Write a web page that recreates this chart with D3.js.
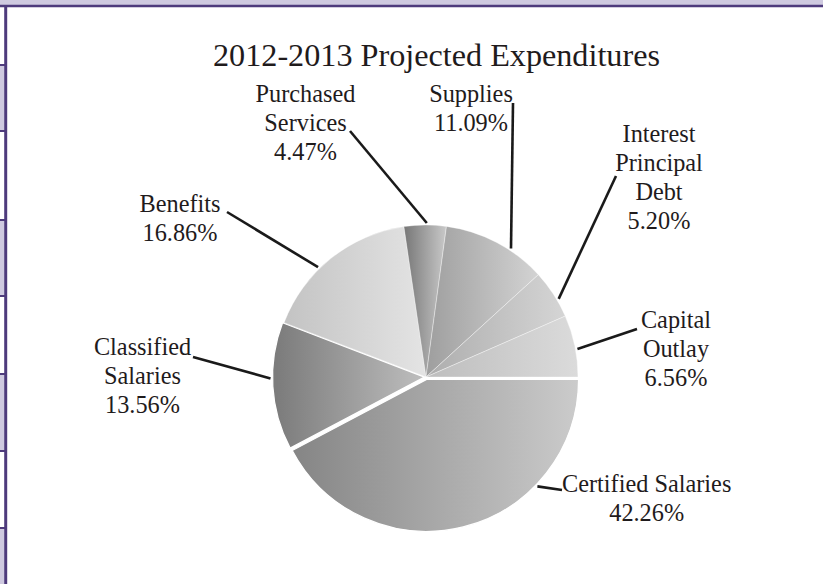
<!DOCTYPE html>
<html><head><meta charset="utf-8">
<script src="https://cdn.jsdelivr.net/npm/d3@7"></script>
<style>body{margin:0;background:#fff}svg{display:block}</style>
</head><body>
<script>
// ---- data ----
const title = "2012-2013 Projected Expenditures";
const categories = ["Certified Salaries", "Classified Salaries", "Benefits", "Purchased Services", "Supplies", "Interest Principal Debt", "Capital Outlay"];
const values = [42.26, 13.56, 16.86, 4.47, 11.09, 5.20, 6.56];
const labelLines = [["Certified Salaries"], ["Classified", "Salaries"], ["Benefits"], ["Purchased", "Services"], ["Supplies"], ["Interest", "Principal", "Debt"], ["Capital", "Outlay"]];

// ---- styles / layout ----
const gradLeft  = ["#858585", "#7a7a7a", "#c3c3c3", "#777777", "#9e9e9e", "#adadad", "#bdbdbd"];
const gradRight = ["#cbcbcb", "#bebebe", "#e4e4e4", "#c9c9c9", "#d3d3d3", "#d5d5d5", "#dbdbdb"];
const explode = [2.5, 1.5, 0, 0, 0, 0, 0];
const leaderAngle = [134, 269.5, 315.5, 0.3, 33.5, 59.5, 79.5];       // degrees, clockwise from 12 o'clock
const leaderEnd = [[562, 490], [193, 357], [227, 212], [350, 131], [513, 103], [616, 176], [637, 329]];
const labelPos = [[646.7, 491.7], [142.5, 355], [180, 211.7], [305.5, 101.7], [471, 101.7], [659, 141.7], [676, 328.3]];

const W = 823, H = 584;
const cx = 426, cy = 377, R = 152;
const lineH = 29;

const svg = d3.select("body").append("svg").attr("width", W).attr("height", H);
svg.append("rect").attr("width", W).attr("height", H).attr("fill", "#fff");

// ---- page frame ----
const lav = "#cfcae0", purple = "#4e3b7c";
svg.append("rect").attr("x", 0).attr("y", 0).attr("width", W).attr("height", 5).attr("fill", lav);
const lavSegs = [[66, 131], [221, 295], [375, 450], [529, 584]];
svg.selectAll("rect.seg").data(lavSegs).enter().append("rect")
  .attr("x", 0).attr("y", d => d[0]).attr("width", 4.5).attr("height", d => d[1] - d[0]).attr("fill", lav);
const seps = [65, 131, 220, 296, 374, 451, 528];
svg.selectAll("line.sep").data(seps).enter().append("line")
  .attr("x1", 0).attr("x2", 5).attr("y1", d => d).attr("y2", d => d)
  .attr("stroke", purple).attr("stroke-width", 2);
svg.append("line").attr("x1", 0).attr("x2", W).attr("y1", 6).attr("y2", 6).attr("stroke", purple).attr("stroke-width", 2.5);
svg.append("line").attr("x1", 5.7).attr("x2", 5.7).attr("y1", 5).attr("y2", H).attr("stroke", purple).attr("stroke-width", 3);

// ---- title ----
svg.append("text").attr("x", 436.5).attr("y", 66).attr("text-anchor", "middle")
  .attr("font-family", "'Liberation Serif','Times New Roman',serif").attr("font-size", 32.2)
  .attr("fill", "#1f1b1c").text(title);

// ---- defs ----
const defs = svg.append("defs");
categories.forEach((c, i) => {
  const g = defs.append("linearGradient").attr("id", "g" + i).attr("x1", 0).attr("x2", 1).attr("y1", 0).attr("y2", 0);
  g.append("stop").attr("offset", 0).attr("stop-color", gradLeft[i]);
  g.append("stop").attr("offset", 1).attr("stop-color", gradRight[i]);
});
const f = defs.append("filter").attr("id", "soft").attr("x", -0.05).attr("y", -0.05).attr("width", 1.1).attr("height", 1.1);
f.append("feGaussianBlur").attr("stdDeviation", 0.7);

// ---- pie ----
const pie = d3.pie().sort(null).value(d => d).startAngle(Math.PI / 2).endAngle(Math.PI / 2 + 2 * Math.PI);
const arcs = pie(values);
const arc = d3.arc().innerRadius(0).outerRadius(R);
const pg = svg.append("g").attr("transform", `translate(${cx},${cy})`).attr("filter", "url(#soft)");
pg.selectAll("path").data(arcs).enter().append("path")
  .attr("d", arc)
  .attr("transform", (d, i) => {
    const a = (d.startAngle + d.endAngle) / 2;
    return `translate(${Math.sin(a) * explode[i]},${-Math.cos(a) * explode[i]})`;
  })
  .attr("fill", (d, i) => `url(#g${i})`)
  .attr("stroke", (d, i) => explode[i] ? "#fff" : "rgba(255,255,255,0.45)")
  .attr("stroke-width", (d, i) => explode[i] ? 1.3 : 0.8)
  .attr("stroke-linejoin", "round");

// ---- leaders ----
const lg = svg.append("g");
arcs.forEach((d, i) => {
  const a = leaderAngle[i] * Math.PI / 180;
  const mid = (d.startAngle + d.endAngle) / 2;
  const ox = Math.sin(mid) * explode[i], oy = -Math.cos(mid) * explode[i];
  const rr = R + 2;
  lg.append("line")
    .attr("x1", cx + ox + Math.sin(a) * rr).attr("y1", cy + oy - Math.cos(a) * rr)
    .attr("x2", leaderEnd[i][0]).attr("y2", leaderEnd[i][1])
    .attr("stroke", "#1a1a1a").attr("stroke-width", 2.6);
});

// ---- labels ----
const fmt = d3.format(".2f");
const tg = svg.append("g").attr("font-family", "'Liberation Serif','Times New Roman',serif")
  .attr("font-size", 24.3).attr("fill", "#1f1b1c").attr("text-anchor", "middle");
categories.forEach((c, i) => {
  const lines = labelLines[i].concat([fmt(values[i]) + "%"]);
  const t = tg.append("text").attr("x", labelPos[i][0]).attr("y", labelPos[i][1]);
  lines.forEach((l, k) => {
    t.append("tspan").attr("x", labelPos[i][0]).attr("y", labelPos[i][1] + k * lineH).text(l);
  });
});
</script>
</body></html>
